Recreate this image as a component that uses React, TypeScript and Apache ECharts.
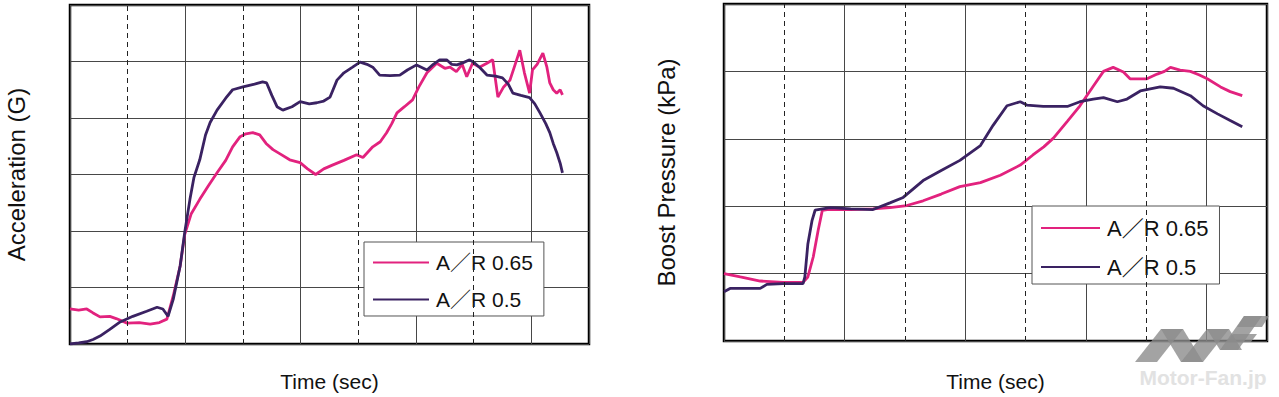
import React, { useEffect, useRef } from 'react';
import * as echarts from 'echarts';

const PINK = '#e2227e';
const PURPLE = '#3a2262';
const FONT = "'Liberation Sans', 'Noto Sans CJK JP', Arial, sans-serif";

const seriesNames = ['A／R 0.65', 'A／R 0.5'];
const timeTitle = 'Time (sec)';
const accelTitle = 'Acceleration (G)';
const boostTitle = 'Boost Pressure (kPa)';

// x: time in grid units (0..9), y: grid units
const dashedTimes = [1, 3, 5, 7];

const accelAR065: [number, number][] = [
  [0, 0.62], [0.15, 0.6], [0.29, 0.62], [0.4, 0.55], [0.52, 0.48], [0.69, 0.49], [0.8, 0.45],
  [0.99, 0.37], [1.2, 0.38], [1.39, 0.35], [1.55, 0.38], [1.68, 0.44], [1.79, 0.85],
  [1.91, 1.38], [1.99, 1.94], [2.1, 2.3], [2.25, 2.56], [2.4, 2.8], [2.55, 3.03],
  [2.7, 3.25], [2.82, 3.49], [2.95, 3.67], [3.05, 3.72], [3.17, 3.74], [3.29, 3.7],
  [3.4, 3.55], [3.52, 3.44], [3.65, 3.36], [3.81, 3.26], [3.99, 3.21], [4.12, 3.1],
  [4.26, 3.0], [4.4, 3.1], [4.56, 3.17], [4.75, 3.25], [4.97, 3.35], [5.08, 3.3],
  [5.25, 3.49], [5.38, 3.58], [5.49, 3.74], [5.58, 3.9], [5.67, 4.09], [5.8, 4.2],
  [5.94, 4.32], [6.05, 4.55], [6.19, 4.8], [6.36, 4.97], [6.5, 4.88], [6.59, 4.9],
  [6.7, 4.82], [6.8, 4.95], [6.88, 4.73], [6.98, 4.97], [7.1, 4.9], [7.23, 4.97],
  [7.33, 5.03], [7.42, 4.37], [7.52, 4.55], [7.63, 4.67], [7.72, 4.95], [7.8, 5.2],
  [7.88, 4.8], [7.97, 4.44], [8.02, 4.85], [8.1, 4.95], [8.2, 5.15], [8.27, 4.9],
  [8.32, 4.62], [8.38, 4.5], [8.44, 4.44], [8.5, 4.5], [8.54, 4.41]
];

const accelAR05: [number, number][] = [
  [0, 0.0], [0.15, 0.02], [0.29, 0.04], [0.4, 0.08], [0.52, 0.14], [0.69, 0.26],
  [0.87, 0.39], [1.09, 0.49], [1.33, 0.58], [1.51, 0.65], [1.61, 0.62], [1.7, 0.49],
  [1.79, 0.79], [1.91, 1.38], [1.99, 1.98], [2.08, 2.56], [2.15, 2.95], [2.25, 3.26],
  [2.35, 3.7], [2.43, 3.92], [2.55, 4.14], [2.7, 4.35], [2.82, 4.5], [3.0, 4.55],
  [3.2, 4.6], [3.34, 4.64], [3.41, 4.62], [3.5, 4.4], [3.59, 4.2], [3.69, 4.14],
  [3.85, 4.2], [3.99, 4.29], [4.15, 4.25], [4.28, 4.27], [4.4, 4.3], [4.51, 4.37],
  [4.63, 4.67], [4.75, 4.8], [4.9, 4.9], [5.03, 4.99], [5.15, 4.95], [5.25, 4.9],
  [5.37, 4.76], [5.55, 4.75], [5.72, 4.76], [5.85, 4.85], [6.01, 4.94], [6.19, 4.85],
  [6.3, 4.95], [6.41, 5.03], [6.53, 5.03], [6.62, 4.95], [6.71, 4.94], [6.82, 4.98],
  [6.93, 5.03], [7.02, 4.97], [7.11, 4.89], [7.23, 4.76], [7.38, 4.74], [7.5, 4.71],
  [7.6, 4.6], [7.68, 4.44], [7.82, 4.4], [7.97, 4.36], [8.06, 4.25], [8.15, 4.09],
  [8.25, 3.9], [8.32, 3.74], [8.38, 3.55], [8.44, 3.39], [8.5, 3.2], [8.54, 3.03]
];

const boostAR065: [number, number][] = [
  [0, 1.0], [0.27, 0.95], [0.6, 0.89], [0.98, 0.87], [1.31, 0.87], [1.39, 0.95],
  [1.48, 1.25], [1.56, 1.64], [1.63, 1.94], [1.71, 1.95], [2.1, 1.95], [2.47, 1.96],
  [2.75, 1.98], [3.03, 2.01], [3.3, 2.08], [3.6, 2.18], [3.91, 2.29], [4.25, 2.35],
  [4.58, 2.46], [4.91, 2.61], [5.12, 2.76], [5.3, 2.88], [5.46, 3.01], [5.69, 3.26],
  [5.9, 3.49], [6.12, 3.78], [6.29, 4.0], [6.45, 4.06], [6.62, 3.99], [6.73, 3.89],
  [6.87, 3.89], [7.01, 3.89], [7.18, 3.96], [7.3, 4.0], [7.4, 4.06], [7.56, 4.02],
  [7.73, 4.0], [7.87, 3.95], [8.01, 3.89], [8.23, 3.77], [8.39, 3.7], [8.59, 3.64]
];

const boostAR05: [number, number][] = [
  [0, 0.73], [0.1, 0.78], [0.6, 0.78], [0.71, 0.84], [0.98, 0.85], [1.31, 0.85],
  [1.34, 0.95], [1.39, 1.44], [1.46, 1.79], [1.51, 1.94], [1.76, 1.98], [2.1, 1.96],
  [2.47, 1.95], [2.75, 2.05], [2.97, 2.13], [3.3, 2.38], [3.6, 2.53], [3.91, 2.68],
  [4.25, 2.9], [4.46, 3.2], [4.69, 3.49], [4.91, 3.55], [5.02, 3.5], [5.29, 3.48],
  [5.69, 3.48], [5.9, 3.55], [6.12, 3.59], [6.29, 3.61], [6.52, 3.55], [6.68, 3.59],
  [6.9, 3.71], [7.23, 3.77], [7.45, 3.75], [7.73, 3.64], [7.94, 3.49], [8.18, 3.37],
  [8.39, 3.27], [8.59, 3.18]
];

const gridLine = { color: '#474747', width: 1 };

function makeXAxis(gridIndex: number, nameGap: number) {
  return {
    gridIndex,
    type: 'value',
    min: 0,
    max: 9,
    interval: 2,
    axisLine: { show: false },
    axisTick: { show: false },
    axisLabel: { show: false },
    splitLine: { show: true, lineStyle: gridLine },
    name: timeTitle,
    nameLocation: 'middle',
    nameGap,
    nameTextStyle: { fontSize: 21, color: '#111', fontFamily: FONT },
  };
}

function makeYAxis(gridIndex: number, max: number, name: string, nameGap: number) {
  return {
    gridIndex,
    type: 'value',
    min: 0,
    max,
    interval: 1,
    axisLine: { show: false },
    axisTick: { show: false },
    axisLabel: { show: false },
    splitLine: { show: true, lineStyle: gridLine },
    name,
    nameLocation: 'middle',
    nameRotate: 90,
    nameGap,
    nameTextStyle: { fontSize: 24, color: '#111', fontFamily: FONT },
  };
}

function dataSeries(name: string, color: string, idx: number, data: [number, number][]) {
  return {
    type: 'line',
    name,
    xAxisIndex: idx,
    yAxisIndex: idx,
    data,
    color,
    symbol: 'none',
    showSymbol: false,
    lineStyle: { color, width: 2.8 },
    z: 3,
  };
}

function dashedSeries(idx: number) {
  return {
    type: 'line',
    name: 'dashed-' + idx,
    xAxisIndex: idx,
    yAxisIndex: idx,
    data: [],
    silent: true,
    z: 1,
    markLine: {
      silent: true,
      symbol: 'none',
      animation: false,
      label: { show: false },
      lineStyle: { type: [5, 4], color: '#222', width: 1 },
      data: dashedTimes.map((t) => ({ xAxis: t })),
    },
  };
}

function legendAt(left: number, top: number, fontSize: number, itemWidth: number, itemGap: number, padding: number[]) {
  return {
    data: seriesNames,
    orient: 'vertical',
    left,
    top,
    backgroundColor: '#fff',
    borderColor: '#555',
    borderWidth: 1,
    padding,
    itemGap,
    itemWidth,
    itemHeight: 2,
    icon: 'rect',
    selectedMode: false,
    textStyle: { fontSize, color: '#111', fontFamily: FONT, padding: [0, 0, 0, 2] },
  };
}

const logoFill = 'rgba(140,140,140,0.8)';

export default function App() {
  const ref = useRef<HTMLDivElement>(null);
  useEffect(() => {
    if (!ref.current) return;
    const chart = echarts.init(ref.current, null, { renderer: 'svg' });
    chart.setOption({
      animation: false,
      backgroundColor: '#fff',
      grid: [
        { left: 70, top: 5, width: 519, height: 340, show: true, borderColor: '#000', borderWidth: 2.5, backgroundColor: '#fff' },
        { left: 724, top: 4, width: 543, height: 341, show: true, borderColor: '#000', borderWidth: 2.5, backgroundColor: '#fff' },
      ],
      xAxis: [makeXAxis(0, 27), makeXAxis(1, 30)],
      yAxis: [makeYAxis(0, 6, accelTitle, 42), makeYAxis(1, 5, boostTitle, 46)],
      legend: [
        legendAt(364, 242, 21, 56, 16, [10, 11, 6, 9]),
        legendAt(1032, 206, 22, 59, 17, [11, 11, 6, 9]),
      ],
      series: [
        dashedSeries(0),
        dashedSeries(1),
        dataSeries(seriesNames[0], PINK, 0, accelAR065),
        dataSeries(seriesNames[1], PURPLE, 0, accelAR05),
        dataSeries(seriesNames[0], PINK, 1, boostAR065),
        dataSeries(seriesNames[1], PURPLE, 1, boostAR05),
      ],
      graphic: [
        { type: 'polygon', z: 100, shape: { points: [[1135, 362], [1161, 329], [1183, 329], [1157, 362]] }, style: { fill: logoFill } },
        { type: 'polygon', z: 100, shape: { points: [[1161, 329], [1183, 329], [1203, 362], [1181, 362]] }, style: { fill: logoFill } },
        { type: 'polygon', z: 100, shape: { points: [[1181, 362], [1207, 329], [1229, 329], [1203, 362]] }, style: { fill: logoFill } },
        { type: 'polygon', z: 100, shape: { points: [[1207, 329], [1229, 329], [1242, 350], [1220, 350]] }, style: { fill: logoFill } },
        { type: 'polygon', z: 100, shape: { points: [[1220, 350], [1244, 316], [1262, 316], [1238, 350]] }, style: { fill: logoFill } },
        { type: 'polygon', z: 100, shape: { points: [[1244, 316], [1269, 316], [1262, 327], [1237, 327]] }, style: { fill: logoFill } },
        { type: 'polygon', z: 100, shape: { points: [[1233, 334], [1257, 334], [1251, 342], [1227, 342]] }, style: { fill: logoFill } },
        {
          type: 'text', z: 100, x: 1203, y: 377,
          style: { text: 'Motor-Fan.jp', fill: '#e2e2e2', fontSize: 21, fontWeight: 'bold', fontFamily: FONT, align: 'center', verticalAlign: 'middle' },
        },
      ],
    });
    return () => chart.dispose();
  }, []);
  return <div ref={ref} style={{ position: 'fixed', left: 0, top: 0, width: 1279, height: 397, background: '#fff' }} />;
}
